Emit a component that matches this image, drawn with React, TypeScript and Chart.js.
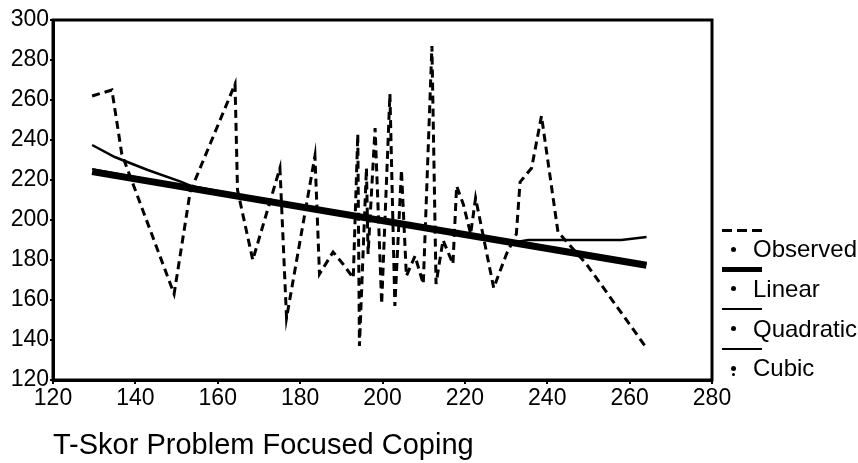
import React, { useEffect, useRef } from "react";
import { Chart, registerables } from "chart.js";

Chart.register(...registerables);

const observedX = [129.5, 134.3, 136.7, 149.4, 153.3, 164.2, 164.8, 168.5, 175.1, 176.7, 183.6, 184.7, 188.0, 190.4, 192.9, 194.0, 194.4, 196.1, 196.5, 198.2, 199.8, 201.8, 203.0, 204.6, 205.8, 207.9, 209.9, 212.0, 213.0, 214.7, 217.1, 218.0, 219.6, 221.4, 222.6, 227.0, 230.1, 232.5, 233.4, 236.2, 238.6, 242.6, 249.5, 264.1];
const observedY = [262, 265, 233, 163, 214, 268, 215, 180, 226, 151, 232, 173, 184, 178, 171, 243, 137, 226, 183, 246, 158, 263, 157, 225, 172, 182, 168, 287, 168, 190, 178, 217, 208, 193, 211, 166, 183, 193, 219, 226, 252, 194, 178, 136];

// Fitted curves
const linearX = [129.5, 264.1];
const linearY = [224.2, 177.4];
const quadraticX = [129.5, 165, 200, 235, 264.1];
const quadraticY = [225.5, 212, 200, 188.5, 178];
const cubicX = [129.5, 135, 143, 151, 153.5, 165, 180, 200, 215, 232.5, 235.4, 258, 264.1];
const cubicY = [237.5, 231.5, 225, 219.2, 217, 212.5, 207, 200, 195, 189, 190, 190, 191.5];

const xMin = 120;
const xMax = 280;
const xStep = 20;
const yMin = 120;
const yMax = 300;
const yStep = 20;

const xTitle = "T-Skor Problem Focused Coping";
const legendLabels = ["Observed", "Linear", "Quadratic", "Cubic"];

const FONT = "'Liberation Sans', Arial, Helvetica, sans-serif";

const toPts = (xs: number[], ys: number[]) => xs.map((x, i) => ({ x, y: ys[i] }));

const framePlugin = {
  id: "frame",
  afterDatasetsDraw(chart: any) {
    const { ctx, chartArea } = chart;
    const { left, top, right, bottom } = chartArea;
    ctx.save();
    ctx.strokeStyle = "#000";
    ctx.lineWidth = 3;
    ctx.strokeRect(left, top, right - left, bottom - top);
    ctx.restore();
  },
};

export default function App() {
  const canvasRef = useRef<HTMLCanvasElement | null>(null);

  useEffect(() => {
    document.body.style.margin = "0";
    const canvas = canvasRef.current;
    if (!canvas) return;
    const chart = new Chart(canvas, {
      type: "line",
      data: {
        datasets: [
          {
            label: legendLabels[0],
            data: toPts(observedX, observedY),
            borderColor: "#000",
            borderWidth: 3,
            borderDash: [8, 5],
            pointRadius: 0,
            tension: 0,
            order: 3,
          },
          {
            label: legendLabels[1],
            data: toPts(linearX, linearY),
            borderColor: "#000",
            borderWidth: 7,
            pointRadius: 0,
            tension: 0,
            order: 2,
          },
          {
            label: legendLabels[2],
            data: toPts(quadraticX, quadraticY),
            borderColor: "#000",
            borderWidth: 2,
            pointRadius: 0,
            tension: 0,
            order: 1,
          },
          {
            label: legendLabels[3],
            data: toPts(cubicX, cubicY),
            borderColor: "#000",
            borderWidth: 2.5,
            pointRadius: 0,
            tension: 0,
            order: 0,
          },
        ],
      },
      options: {
        animation: false,
        responsive: false,
        maintainAspectRatio: false,
        layout: { padding: { top: 20, right: 146, left: 0, bottom: 0 } },
        plugins: {
          legend: { display: false },
          tooltip: { enabled: false },
          title: { display: false },
        },
        scales: {
          x: {
            type: "linear",
            min: xMin,
            max: xMax,
            ticks: {
              stepSize: xStep,
              color: "#000",
              font: { family: FONT, size: 23 },
              padding: 1,
              maxRotation: 0,
              autoSkip: false,
            },
            grid: { drawOnChartArea: false, drawTicks: true, tickLength: 4, color: "#000", lineWidth: 2 },
            border: { display: true, color: "#000", width: 3 },
            title: {
              display: true,
              text: xTitle,
              align: "start",
              color: "#000",
              font: { family: FONT, size: 29 },
              padding: { top: 0, bottom: 0 },
            },
            afterFit: (s: any) => {
              s.height = 83;
            },
          },
          y: {
            type: "linear",
            min: yMin,
            max: yMax,
            ticks: {
              stepSize: yStep,
              color: "#000",
              font: { family: FONT, size: 23 },
              padding: 1,
            },
            grid: { drawOnChartArea: false, drawTicks: true, tickLength: 3, color: "#000", lineWidth: 2 },
            border: { display: true, color: "#000", width: 3 },
            afterFit: (s: any) => {
              s.width = 53;
            },
          },
        },
      },
      plugins: [framePlugin],
    });
    return () => chart.destroy();
  }, []);

  const sampleStyle = (i: number): React.CSSProperties => {
    const base: React.CSSProperties = { position: "absolute", left: 722, width: 40 };
    const cy = 230 + 39.7 * i;
    if (i === 0) {
      return {
        ...base,
        top: cy - 1.5,
        height: 3,
        background: "repeating-linear-gradient(90deg, #000 0 10px, transparent 10px 15px)",
      };
    }
    if (i === 1) return { ...base, top: cy - 2.5, height: 5, background: "#000" };
    return { ...base, top: cy - 1, height: 2, background: "#000" };
  };

  return (
    <div style={{ position: "absolute", left: 0, top: 0, width: 858, height: 463, background: "#fff", overflow: "hidden" }}>
      <canvas ref={canvasRef} width={858} height={463} style={{ position: "absolute", left: 0, top: 0, width: 858, height: 463 }} />
      {legendLabels.map((label, i) => {
        const cy = 249 + 39.8 * i;
        return (
          <React.Fragment key={label}>
            <div style={sampleStyle(i)} />
            <div
              style={{
                position: "absolute",
                left: 731,
                top: cy - 2.5,
                width: 5,
                height: 5,
                borderRadius: "50%",
                background: "#000",
              }}
            />
            {i === 3 && (
              <div
                style={{
                  position: "absolute",
                  left: 732,
                  top: cy + 5,
                  width: 3,
                  height: 3,
                  borderRadius: "50%",
                  background: "#000",
                }}
              />
            )}
            <div
              style={{
                position: "absolute",
                left: 753,
                top: cy - 14,
                height: 28,
                lineHeight: "28px",
                fontFamily: FONT,
                fontSize: 24,
                color: "#000",
                whiteSpace: "nowrap",
              }}
            >
              {label}
            </div>
          </React.Fragment>
        );
      })}
    </div>
  );
}
